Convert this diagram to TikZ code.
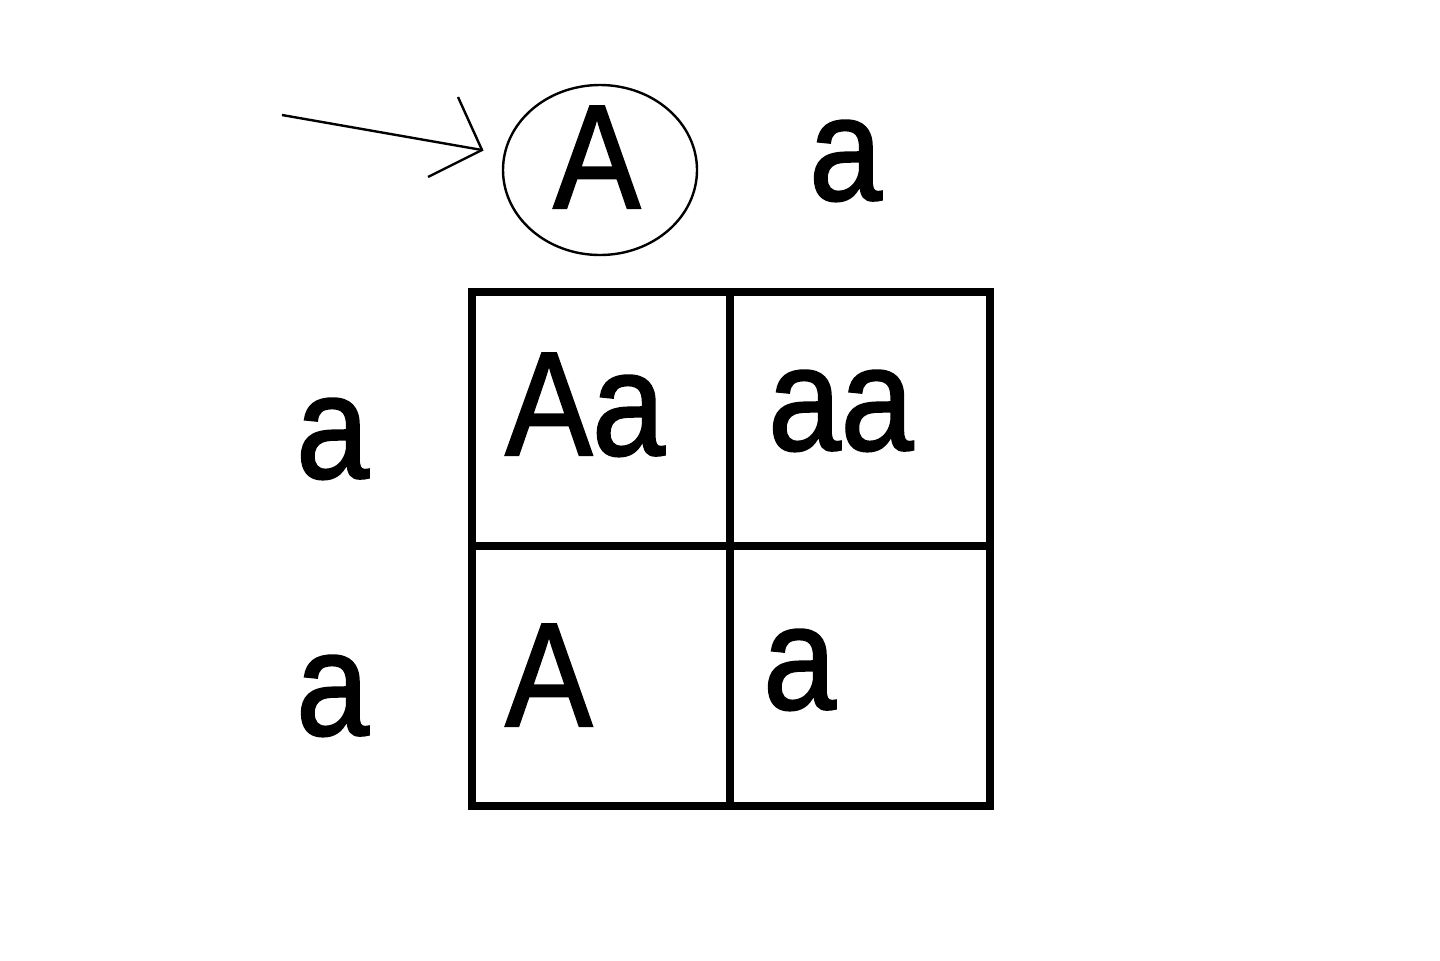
\documentclass[tikz,border=0pt]{standalone}
\usepackage{fontspec}
\setmainfont{Liberation Sans}
\newfontfamily\lblfont[FakeStretch=0.88,FakeBold=1.5]{Liberation Sans}
\usetikzlibrary{shapes.geometric}
\begin{document}
\begin{tikzpicture}[x=0.5pt,y=-0.5pt,
  lbl/.style={anchor=base west,inner sep=0pt,font=\lblfont\fontsize{74}{80}\selectfont},
  gridline/.style={line width=4pt,line cap=rect},
  thinline/.style={line width=1.2pt}]
\useasboundingbox (0,0) rectangle (1440,960);
% grid
\coordinate (g1) at (472,292);
\coordinate (g2) at (990,806);
\draw[gridline] (g1) rectangle (g2);
\draw[gridline] (730,292) -- (730,806);
\draw[gridline] (472,546) -- (990,546);
% cell texts
\node[lbl] (c11) at (505,455) {Aa};
\node[lbl] (c12) at (768,450) {aa};
\node[lbl] (c21) at (505,726) {A};
\node[lbl] (c22) at (763,709) {a};
% row labels
\node[lbl] (r1) at (296,478) {a};
\node[lbl] (r2) at (296,735) {a};
% column labels
\node[lbl] (t1) at (553,208) {A};
\node[lbl] (t2) at (809,200) {a};
% circle around A
\node[draw,thinline,ellipse,minimum width=97pt,minimum height=85pt,inner sep=0pt] (circ) at (600,170) {};
% arrow
\coordinate (tail) at (282,115);
\coordinate (tip) at (482,150);
\coordinate (h1) at (458,97);
\coordinate (h2) at (428,177);
\draw[thinline] (tail) -- (tip);
\draw[thinline] (h1) -- (tip) -- (h2);
\end{tikzpicture}
\end{document}
